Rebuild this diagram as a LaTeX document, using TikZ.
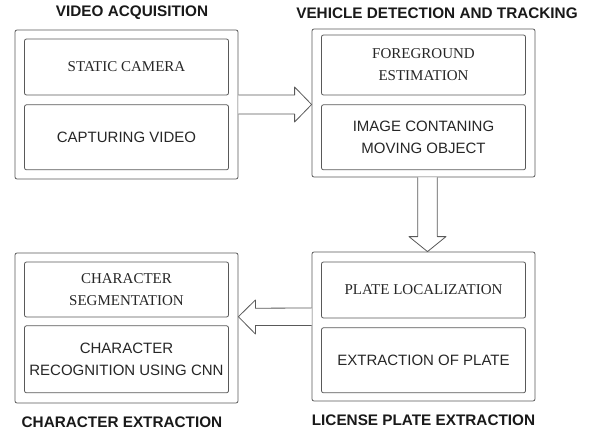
\documentclass[tikz,border=0pt]{standalone}
\usepackage{fontspec}
\setmainfont{Liberation Serif}
\setsansfont{Liberation Sans}
\usetikzlibrary{positioning}

\begin{document}
\begin{tikzpicture}[
        x=1pt, y=1pt,
        font=\sffamily\fontsize{15}{21.5}\selectfont,
        stage/.style = {rectangle, draw=black!65, line width=0.8pt, rounded corners=2pt, minimum width=223pt, inner sep=0pt},
        sub/.style = {rectangle, draw=black!65, line width=0.8pt, rounded corners=2pt, minimum width=204pt, align=center, inner sep=0pt, text=black!85},
        serifsub/.style = {sub, font=\rmfamily\fontsize{15}{22}\selectfont},
        title/.style = {font=\sffamily\bfseries\fontsize{15.3}{18}\selectfont, inner sep=0pt, text=black!90},
        fatarrow/.style = {draw=black!65, line width=0.8pt, fill=white, line join=round}
    ]
    \useasboundingbox (0,0) rectangle (590,-432);

    % Stages
    \node [stage, minimum height=149pt] (acq) at (126.5,-104.5) {};
    \node [stage, minimum height=148pt] (det) at (423.5,-103) {};
    \node [stage, minimum height=150pt] (chx) at (126.5,-328) {};
    \node [stage, minimum height=149pt] (lpx) at (423.5,-326.5) {};

    % Titles
    \node [title, above=10pt of acq, xshift=5.5pt] (acqtitle) {VIDEO ACQUISITION};
    \node [title, above=10pt of det, xshift=13.5pt] (dettitle) {VEHICLE DETECTION AND TRACKING};
    \node [title, below=13pt of chx, xshift=-4.5pt] (chxtitle) {CHARACTER EXTRACTION};
    \node [title, below=13pt of lpx] (lpxtitle) {LICENSE PLATE EXTRACTION};

    % Steps inside the stages
    \node [serifsub, minimum height=56pt, below=9pt of acq.north] (cam) {STATIC CAMERA};
    \node [sub, minimum height=65pt, below=9pt of cam] (cap) {CAPTURING VIDEO};

    \node [serifsub, minimum height=60pt, below=6pt of det.north] (fg) {FOREGROUND\\ESTIMATION};
    \node [sub, minimum height=65pt, below=9pt of fg] (img) {IMAGE CONTANING\\MOVING OBJECT};

    \node [serifsub, minimum height=55pt, below=9pt of chx.north] (seg) {CHARACTER\\SEGMENTATION};
    \node [sub, minimum height=67pt, below=8pt of seg] (rec) {CHARACTER\\RECOGNITION USING CNN};

    \node [serifsub, minimum height=56pt, below=10pt of lpx.north] (loc) {PLATE LOCALIZATION};
    \node [sub, minimum height=65pt, below=9pt of loc] (ext) {EXTRACTION OF PLATE};

    % Block arrows
    \draw [fatarrow] ([yshift=9.5pt]acq.east) -- ([xshift=-17pt,yshift=8pt]det.west) -- ([xshift=-17pt,yshift=16pt]det.west) -- ([yshift=-1.5pt]det.west) -- ([xshift=-17pt,yshift=-19pt]det.west) -- ([xshift=-17pt,yshift=-11pt]det.west) -- ([yshift=-9.5pt]acq.east);
    \draw [fatarrow] ([xshift=-5.8pt]det.south) -- ([xshift=-5.8pt,yshift=15pt]lpx.north) -- ([xshift=-14.5pt,yshift=15pt]lpx.north) -- ([xshift=4pt]lpx.north) -- ([xshift=22.5pt,yshift=15pt]lpx.north) -- ([xshift=13.8pt,yshift=15pt]lpx.north) -- ([xshift=13.8pt]det.south);
    \draw [fatarrow] ([yshift=18.5pt]lpx.west) -- ([xshift=17pt,yshift=19.8pt]chx.east) -- ([xshift=17pt,yshift=28pt]chx.east) -- ([yshift=11.3pt]chx.east) -- ([xshift=17pt,yshift=-6pt]chx.east) -- ([xshift=17pt,yshift=2.6pt]chx.east) -- ([yshift=1.1pt]lpx.west);

\end{tikzpicture}
\end{document}
